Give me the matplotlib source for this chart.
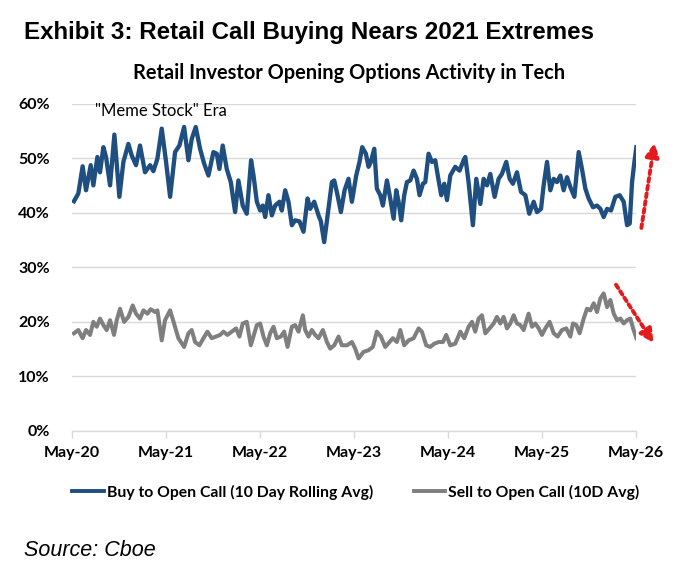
import matplotlib
matplotlib.use("Agg")
import matplotlib.pyplot as plt
import numpy as np

# ---- data (decimal years, percent) ----
buy_years = [
    2020.351, 2020.397, 2020.443, 2020.479, 2020.529, 2020.557, 2020.600, 2020.628, 2020.664, 2020.692,
    2020.735, 2020.781, 2020.834, 2020.877, 2020.930, 2020.965, 2021.011, 2021.054, 2021.107, 2021.161,
    2021.196, 2021.239, 2021.285, 2021.331, 2021.374, 2021.427, 2021.473, 2021.523, 2021.569, 2021.604,
    2021.647, 2021.693, 2021.736, 2021.782, 2021.835, 2021.871, 2021.899, 2021.934, 2021.977, 2022.020,
    2022.066, 2022.101, 2022.147, 2022.190, 2022.236, 2022.262, 2022.297, 2022.333, 2022.361, 2022.386,
    2022.421, 2022.457, 2022.492, 2022.538, 2022.563, 2022.599, 2022.634, 2022.670, 2022.705, 2022.751,
    2022.794, 2022.837, 2022.865, 2022.908, 2022.954, 2022.979, 2023.014, 2023.050, 2023.096, 2023.121,
    2023.156, 2023.192, 2023.231, 2023.273, 2023.309, 2023.355, 2023.390, 2023.419, 2023.458, 2023.486,
    2023.511, 2023.547, 2023.575, 2023.611, 2023.639, 2023.682, 2023.717, 2023.753, 2023.781, 2023.806,
    2023.834, 2023.866, 2023.895, 2023.930, 2023.966, 2024.001, 2024.029, 2024.065, 2024.090, 2024.125,
    2024.161, 2024.196, 2024.232, 2024.260, 2024.292, 2024.321, 2024.356, 2024.409, 2024.455, 2024.498,
    2024.516, 2024.551, 2024.597, 2024.633, 2024.676, 2024.711, 2024.747, 2024.782, 2024.828, 2024.871,
    2024.906, 2024.952, 2024.988, 2025.023, 2025.066, 2025.109, 2025.155, 2025.197, 2025.244, 2025.279,
    2025.322, 2025.350, 2025.386, 2025.421, 2025.457, 2025.492, 2025.528, 2025.563, 2025.599, 2025.634,
    2025.677, 2025.723, 2025.758, 2025.794, 2025.829, 2025.875, 2025.918, 2025.954, 2025.989, 2026.025,
    2026.067, 2026.113, 2026.159, 2026.202, 2026.238, 2026.266, 2026.291, 2026.316, 2026.337,
]
buy_pct = [
    42.1, 43.5, 48.5, 44.1, 48.7, 45.0, 50.2, 47.4, 52.0, 50.2,
    45.0, 54.3, 42.9, 49.3, 52.6, 50.5, 48.7, 52.3, 47.4, 48.7,
    47.6, 49.9, 55.4, 49.3, 42.9, 51.1, 52.3, 55.7, 49.6, 53.5,
    55.7, 51.7, 49.0, 46.8, 51.1, 50.8, 48.0, 52.3, 48.0, 45.6,
    40.1, 45.9, 41.3, 39.8, 49.6, 46.8, 42.0, 40.4, 41.3, 39.2,
    43.2, 39.5, 41.3, 42.0, 40.4, 44.1, 42.0, 37.7, 38.6, 38.4,
    36.5, 42.6, 40.7, 42.0, 39.5, 38.4, 34.6, 39.5, 45.6, 45.9,
    43.2, 40.1, 44.1, 46.2, 42.0, 46.8, 49.3, 52.0, 50.8, 48.4,
    49.3, 51.7, 44.4, 43.2, 41.3, 45.9, 42.6, 38.9, 44.1, 42.0,
    38.6, 43.2, 45.6, 45.9, 47.7, 46.2, 43.2, 45.3, 45.6, 50.8,
    49.3, 49.6, 45.9, 43.2, 45.3, 42.3, 46.8, 48.4, 47.7, 49.6,
    50.2, 45.6, 37.7, 46.2, 41.6, 46.2, 45.0, 47.1, 42.9, 46.2,
    47.1, 49.3, 46.2, 45.3, 47.4, 43.8, 43.2, 39.8, 42.0, 40.1,
    40.7, 45.0, 49.3, 44.1, 46.2, 45.6, 46.8, 44.1, 46.5, 44.7,
    42.9, 51.1, 48.0, 44.4, 42.6, 41.0, 41.3, 40.7, 39.2, 40.7,
    40.4, 42.9, 43.2, 42.0, 37.7, 38.0, 45.6, 49.3, 52.0,
]

sell_years = [
    2020.351, 2020.397, 2020.443, 2020.479, 2020.522, 2020.557, 2020.593, 2020.628, 2020.664, 2020.699,
    2020.735, 2020.777, 2020.806, 2020.841, 2020.884, 2020.930, 2020.976, 2021.011, 2021.054, 2021.090,
    2021.132, 2021.168, 2021.214, 2021.239, 2021.285, 2021.320, 2021.374, 2021.416, 2021.462, 2021.523,
    2021.569, 2021.604, 2021.640, 2021.686, 2021.729, 2021.771, 2021.817, 2021.863, 2021.906, 2021.942,
    2021.984, 2022.030, 2022.076, 2022.112, 2022.147, 2022.190, 2022.233, 2022.297, 2022.333, 2022.368,
    2022.404, 2022.439, 2022.475, 2022.510, 2022.553, 2022.588, 2022.624, 2022.670, 2022.705, 2022.741,
    2022.787, 2022.812, 2022.847, 2022.883, 2022.918, 2022.954, 2023.000, 2023.043, 2023.078, 2023.121,
    2023.167, 2023.202, 2023.256, 2023.309, 2023.344, 2023.380, 2023.433, 2023.486, 2023.532, 2023.575,
    2023.618, 2023.664, 2023.710, 2023.745, 2023.788, 2023.824, 2023.866, 2023.912, 2023.966, 2024.019,
    2024.054, 2024.100, 2024.143, 2024.186, 2024.232, 2024.278, 2024.313, 2024.356, 2024.409, 2024.463,
    2024.505, 2024.551, 2024.587, 2024.622, 2024.658, 2024.693, 2024.729, 2024.775, 2024.818, 2024.853,
    2024.889, 2024.924, 2024.960, 2024.995, 2025.031, 2025.066, 2025.102, 2025.137, 2025.190, 2025.226,
    2025.261, 2025.297, 2025.332, 2025.368, 2025.414, 2025.457, 2025.499, 2025.545, 2025.591, 2025.634,
    2025.662, 2025.698, 2025.733, 2025.776, 2025.812, 2025.847, 2025.883, 2025.918, 2025.954, 2025.989,
    2026.025, 2026.060, 2026.096, 2026.131, 2026.167, 2026.202, 2026.238, 2026.273, 2026.302, 2026.337,
]
sell_pct = [
    17.9, 18.5, 17.0, 18.5, 17.6, 20.0, 19.1, 20.6, 19.4, 18.5,
    20.3, 17.6, 20.3, 22.4, 20.0, 20.9, 23.0, 21.5, 20.6, 22.1,
    21.5, 22.3, 21.8, 22.1, 16.6, 20.3, 22.1, 19.7, 17.0, 15.4,
    17.9, 18.5, 16.3, 15.7, 17.0, 18.2, 17.0, 17.3, 17.6, 18.2,
    17.6, 18.2, 18.8, 17.3, 19.7, 20.0, 15.7, 19.4, 19.7, 17.3,
    15.7, 17.9, 19.1, 17.0, 17.3, 18.2, 15.4, 19.1, 19.4, 18.2,
    21.2, 18.5, 17.3, 18.5, 17.6, 17.0, 18.5, 16.3, 15.1, 15.7,
    17.3, 15.7, 15.7, 16.3, 15.1, 13.3, 14.5, 14.8, 15.4, 18.2,
    17.3, 15.4, 16.3, 17.0, 16.3, 18.5, 15.7, 16.6, 17.0, 18.8,
    18.2, 15.7, 15.4, 16.0, 16.3, 16.3, 17.6, 15.7, 16.0, 18.2,
    17.0, 19.1, 20.0, 18.2, 20.6, 21.2, 17.9, 18.8, 19.7, 20.9,
    19.7, 20.9, 18.8, 19.7, 21.2, 19.7, 19.4, 18.5, 21.5, 19.1,
    19.7, 18.8, 17.6, 18.8, 20.0, 17.9, 17.3, 18.5, 18.8, 17.3,
    19.7, 19.4, 17.9, 20.6, 22.4, 22.1, 23.4, 21.8, 24.3, 25.2,
    22.7, 24.0, 21.5, 20.3, 20.6, 19.7, 20.3, 20.6, 18.8, 17.0,
]

tick_years = [2020.333, 2021.333, 2022.333, 2023.333, 2024.333, 2025.333, 2026.333]
tick_labels = ["May-20", "May-21", "May-22", "May-23", "May-24", "May-25", "May-26"]
y_ticks = [0, 10, 20, 30, 40, 50, 60]

title = "Exhibit 3: Retail Call Buying Nears 2021 Extremes"
subtitle = "Retail Investor Opening Options Activity in Tech"
buy_label = "Buy to Open Call (10 Day Rolling Avg)"
sell_label = "Sell to Open Call (10D Avg)"
note = "\"Meme Stock\" Era"
source = "Source: Cboe"

BLUE = "#1f4e80"
GRAY = "#7f7f7f"
CAL = ["Lato", "DejaVu Sans"]
ARIAL = ["Liberation Sans", "DejaVu Sans"]

fig = plt.figure(figsize=(6.8, 5.74), dpi=100)
ax = fig.add_axes([72.3 / 680, 1 - 431 / 574, (636 - 72.3) / 680, (431 - 103.5) / 574])

ax.plot(buy_years, buy_pct, color=BLUE, lw=3.1, solid_joinstyle="round", label=buy_label, zorder=3)
ax.plot(sell_years, sell_pct, color=GRAY, lw=2.9, solid_joinstyle="round", label=sell_label, zorder=3)

ax.set_xlim(tick_years[0], tick_years[-1])
ax.set_ylim(0, 60)
ax.set_yticks(y_ticks)
ax.set_yticklabels([f"{v}%" for v in y_ticks], fontfamily=CAL, fontweight="bold", fontsize=11.5)
ax.set_xticks(tick_years)
ax.set_xticklabels(tick_labels, fontfamily=CAL, fontweight="bold", fontsize=11.5)
ax.grid(axis="y", color="#d9d9d9", lw=1.0, zorder=0)
for s in ["top", "right", "left"]:
    ax.spines[s].set_visible(False)
ax.spines["bottom"].set_color("#d9d9d9")
ax.spines["bottom"].set_linewidth(1.0)
ax.tick_params(axis="y", length=0, pad=16)
ax.tick_params(axis="x", length=5, color="#d9d9d9", width=1.0, pad=6)

# annotations
ax.text(2020.57, 58.6, note, fontfamily=CAL, fontsize=12, ha="left", va="center")
ax.annotate("", xy=(2026.53, 52.8), xytext=(2026.39, 37.2),
            arrowprops=dict(arrowstyle="-|>", linestyle=(0, (1, 1)), color="#e41a1c",
                            lw=2.8, mutation_scale=20, shrinkA=0, shrinkB=0),
            annotation_clip=False)
ax.annotate("", xy=(2026.52, 16.1), xytext=(2026.12, 26.8),
            arrowprops=dict(arrowstyle="-|>", linestyle=(0, (1, 1)), color="#e41a1c",
                            lw=2.8, mutation_scale=20, shrinkA=0, shrinkB=0),
            annotation_clip=False)

fig.text(24 / 680, 1 - 32 / 574, title, fontfamily=ARIAL, fontweight="bold", fontsize=17.4,
         ha="left", va="center")
fig.text(349 / 680, 1 - 73 / 574, subtitle, fontfamily=CAL, fontweight="bold", fontsize=14.4,
         ha="center", va="center")
fig.text(24 / 680, 1 - 550 / 574, source, fontfamily=ARIAL, fontstyle="italic", fontsize=15.5,
         ha="left", va="center")

leg = fig.legend(loc="center", bbox_to_anchor=(356 / 680, 1 - 492 / 574), ncol=2, frameon=False,
                 prop={"family": CAL, "weight": "bold", "size": 11.3},
                 handlelength=2.0, handletextpad=0.2, columnspacing=2.6)
for line in leg.get_lines():
    line.set_linewidth(2.8)

fig.savefig("out.png", dpi=100)
